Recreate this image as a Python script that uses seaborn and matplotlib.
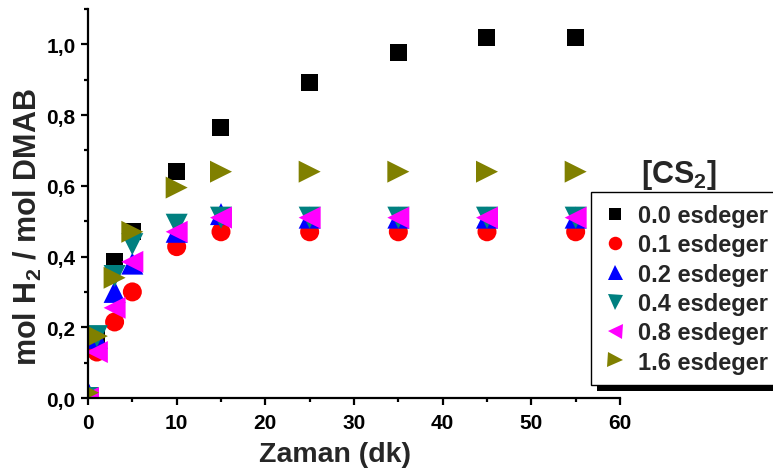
import numpy as np
import pandas as pd
import matplotlib
matplotlib.use("Agg")
import matplotlib.pyplot as plt
from matplotlib.lines import Line2D
from matplotlib.patches import Rectangle
from matplotlib.transforms import IdentityTransform
from matplotlib.ticker import MultipleLocator, FuncFormatter
import seaborn as sns

# Sampling times (minutes)
time_min = [0, 1, 3, 5, 10, 15, 25, 35, 45, 55]

# mol H2 / mol DMAB for each CS2 equivalent
cs2_00 = [0.0, 0.17, 0.385, 0.47, 0.64, 0.766, 0.893, 0.977, 1.02, 1.02]
cs2_01 = [0.0, 0.13, 0.215, 0.30, 0.428, 0.47, 0.47, 0.47, 0.47, 0.47]
cs2_02 = [0.015, 0.17, 0.30, 0.38, 0.47, 0.52, 0.51, 0.51, 0.51, 0.51]
cs2_04 = [0.0, 0.175, 0.345, 0.435, 0.49, 0.51, 0.51, 0.51, 0.51, 0.51]
cs2_08 = [0.0, 0.13, 0.255, 0.385, 0.47, 0.51, 0.51, 0.51, 0.51, 0.51]
cs2_16 = [0.015, 0.175, 0.34, 0.47, 0.595, 0.64, 0.64, 0.64, 0.64, 0.64]

series_labels = ["0.0 esdeger", "0.1 esdeger", "0.2 esdeger",
                 "0.4 esdeger", "0.8 esdeger", "1.6 esdeger"]
series_values = [cs2_00, cs2_01, cs2_02, cs2_04, cs2_08, cs2_16]
colors = ["#000000", "#FF0000", "#0000FF", "#008080", "#FF00FF", "#808000"]
markers = ["s", "o", "^", "v", "<", ">"]
marker_px = [17, 19, 22, 22, 22, 22]          # marker size in pixels
legend_px = [12, 13.5, 15, 15, 15, 15]

sns.set_theme(style="ticks")
plt.rcParams["font.family"] = ["Liberation Sans", "DejaVu Sans"]
plt.rcParams["font.weight"] = "bold"
plt.rcParams["mathtext.fontset"] = "custom"
plt.rcParams["mathtext.rm"] = "Liberation Sans:bold"
plt.rcParams["mathtext.bf"] = "Liberation Sans:bold"
plt.rcParams["mathtext.default"] = "bf"

DPI = 100
fig = plt.figure(figsize=(7.73, 4.77), dpi=DPI)
ax = fig.add_axes([88 / 773, 1 - 399 / 477, (620 - 88) / 773, (399 - 10) / 477])

df = pd.DataFrame({
    "Zaman": np.tile(time_min, len(series_labels)),
    "ratio": np.concatenate(series_values),
    "seri": np.repeat(series_labels, len(time_min)),
})

px2pt = 72.0 / DPI
sns.scatterplot(
    data=df, x="Zaman", y="ratio", hue="seri", style="seri", size="seri",
    palette=dict(zip(series_labels, colors)),
    markers=dict(zip(series_labels, markers)),
    sizes={lab: (p * px2pt) ** 2 for lab, p in zip(series_labels, marker_px)},
    linewidth=0, legend=False, ax=ax,
)

ax.set_xlim(0, 60)
ax.set_ylim(0, 1.1)
ax.xaxis.set_major_locator(MultipleLocator(10))
ax.xaxis.set_minor_locator(MultipleLocator(5))
ax.yaxis.set_major_locator(MultipleLocator(0.2))
ax.yaxis.set_minor_locator(MultipleLocator(0.1))
ax.yaxis.set_major_formatter(FuncFormatter(lambda v, p: f"{v:.1f}".replace(".", ",")))
ax.xaxis.set_major_formatter(FuncFormatter(lambda v, p: f"{v:.0f}"))

for s in ["top", "right"]:
    ax.spines[s].set_visible(False)
for s in ["left", "bottom"]:
    ax.spines[s].set_linewidth(1.6)
    ax.spines[s].set_color("black")
ax.tick_params(which="major", direction="out", length=5, width=1.6,
               labelsize=15, colors="black")
ax.tick_params(axis="x", which="major", pad=6)
ax.tick_params(axis="y", which="major", pad=4)
ax.tick_params(which="minor", direction="out", length=3, width=1.6, colors="black")
for lab in ax.get_xticklabels() + ax.get_yticklabels():
    lab.set_fontweight("bold")

ax.set_xlabel("Zaman (dk)", fontsize=20.5, fontweight="bold")
ax.set_ylabel("mol H$_2$ / mol DMAB", fontsize=22, fontweight="bold")
ax.xaxis.set_label_coords((335 - 88) / 532, -(442 - 399) / 389)
ax.yaxis.label.set_va("center")
ax.yaxis.set_label_coords((28 - 88) / 532, (399 - 227) / 389)

handles = [
    Line2D([], [], linestyle="none", marker=m, color=c, markersize=p * px2pt,
           markeredgewidth=0)
    for m, c, p in zip(markers, colors, legend_px)
]
leg = ax.legend(
    handles, series_labels, loc="upper left",
    bbox_to_anchor=(591 / 773, 1 - 193 / 477), bbox_transform=fig.transFigure,
    borderaxespad=0, frameon=True, fancybox=False, framealpha=1,
    edgecolor="black", prop={"size": 17, "weight": "bold"},
    handlelength=1.0, handletextpad=0.5, labelspacing=0.27, borderpad=0.5,
)
leg.get_frame().set_linewidth(1.0)

fig.text(641 / 773, 1 - 183 / 477, "[CS$_2$]", fontsize=22, fontweight="bold",
         ha="left", va="baseline")

# solid drop shadow behind the legend box
fig.canvas.draw()
bb = leg.get_window_extent()
shadow = Rectangle((bb.x0 + 6, bb.y0 - 6), bb.width, bb.height,
                   transform=IdentityTransform(), facecolor="black",
                   edgecolor="none", zorder=leg.get_zorder() - 0.1, clip_on=False)
ax.add_artist(shadow)

fig.savefig("out.png", dpi=DPI)
